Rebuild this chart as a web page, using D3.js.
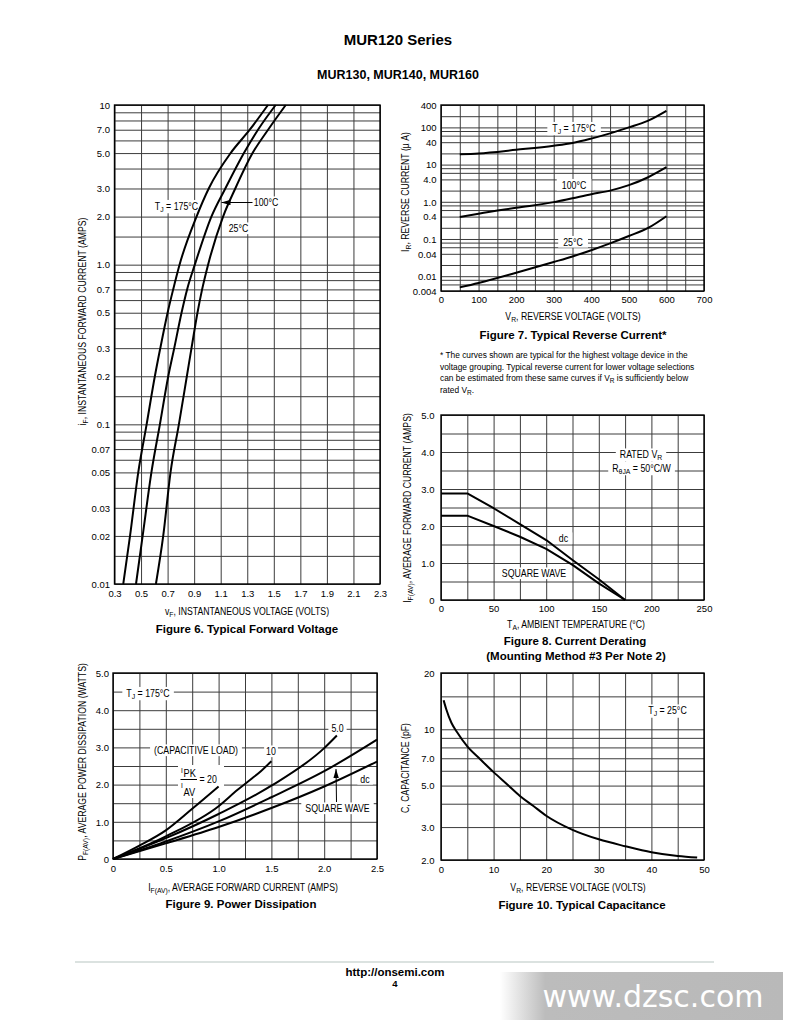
<!DOCTYPE html>
<html>
<head>
<meta charset="utf-8">
<script src="https://cdn.jsdelivr.net/npm/d3@7"></script>
<style>
  body { margin: 0; background: #fff; }
</style>
</head>
<body>
<script>
    //----- DATA ---------------------------------------// 
    // Figure 6: forward current (A) vs forward voltage (V)
    var fig6Current = [0.01, 0.02, 0.05, 0.1, 0.2, 0.3, 0.5, 0.7, 1, 2, 3, 5, 7, 10];
    var fig6V175 = [0.366, 0.417, 0.479, 0.542, 0.604, 0.645, 0.7, 0.742, 0.79, 0.918, 1.01, 1.175, 1.319, 1.456];
    var fig6V100 = [0.462, 0.512, 0.578, 0.642, 0.705, 0.75, 0.805, 0.847, 0.905, 1.03, 1.135, 1.275, 1.381, 1.514];
    var fig6V25  = [0.612, 0.667, 0.722, 0.785, 0.845, 0.88, 0.925, 0.96, 1.005, 1.118, 1.21, 1.34, 1.457, 1.59];
    var fig6XTicks = [0.3, 0.5, 0.7, 0.9, 1.1, 1.3, 1.5, 1.7, 1.9, 2.1, 2.3];
    var fig6XLabels = ['0.3', '0.5', '0.7', '0.9', '1.1', '1.3', '1.5', '1.7', '1.9', '2.1', '2.3'];
    var fig6YTicks = [0.01, 0.02, 0.03, 0.05, 0.07, 0.1, 0.2, 0.3, 0.5, 0.7, 1, 2, 3, 5, 7, 10];
    var fig6YLabels = ['0.01', '0.02', '0.03', '0.05', '0.07', '0.1', '0.2', '0.3', '0.5', '0.7', '1.0', '2.0', '3.0', '5.0', '7.0', '10'];

    // Figure 7: reverse current (uA) vs reverse voltage (V)
    var fig7Voltage = [50, 100, 200, 300, 350, 400, 450, 500, 550, 600];
    var fig7I175 = [19, 20, 25, 32, 38, 50, 69, 100, 150, 280];
    var fig7I100 = [0.39, 0.48, 0.69, 0.98, 1.25, 1.6, 2.0, 2.8, 4.5, 8.5];
    var fig7I25  = [0.005, 0.0066, 0.0124, 0.0241, 0.034, 0.05, 0.076, 0.12, 0.195, 0.41];
    var fig7XTicks = [0, 100, 200, 300, 400, 500, 600, 700];
    var fig7XLabels = ['0', '100', '200', '300', '400', '500', '600', '700'];
    var fig7YTicks = [0.004, 0.01, 0.04, 0.1, 0.4, 1, 4, 10, 40, 100, 400];
    var fig7YLabels = ['0.004', '0.01', '0.04', '0.1', '0.4', '1.0', '4.0', '10', '40', '100', '400'];

    // Figure 8: average forward current (A) vs ambient temperature (C)
    var fig8Temp = [0, 25, 50, 75, 100, 125, 150, 175];
    var fig8Dc = [2.88, 2.88, 2.48, 2.05, 1.62, 1.08, 0.56, 0];
    var fig8Square = [2.28, 2.28, 2.0, 1.71, 1.38, 0.95, 0.45, 0];
    var fig8XTicks = [0, 50, 100, 150, 200, 250];
    var fig8XLabels = ['0', '50', '100', '150', '200', '250'];
    var fig8YTicks = [0, 1, 2, 3, 4, 5];
    var fig8YLabels = ['0', '1.0', '2.0', '3.0', '4.0', '5.0'];

    // Figure 9: power dissipation (W) vs average forward current (A)
    var fig9DcI = [0, 0.5, 1.0, 1.5, 2.0, 2.5];
    var fig9DcP = [0, 0.42, 0.86, 1.37, 1.95, 2.62];
    var fig9SqI = [0, 0.5, 1.0, 1.5, 2.0, 2.5];
    var fig9SqP = [0, 0.47, 1.01, 1.66, 2.36, 3.21];
    var fig9R5I = [0, 0.5, 1.0, 1.5, 2.0, 2.12];
    var fig9R5P = [0, 0.56, 1.21, 1.97, 2.98, 3.32];
    var fig9R10I = [0, 0.5, 1.0, 1.18, 1.3, 1.4, 1.5];
    var fig9R10P = [0, 0.61, 1.42, 1.86, 2.13, 2.36, 2.63];
    var fig9R20I = [0, 0.25, 0.5, 0.75, 1.0];
    var fig9R20P = [0, 0.36, 0.77, 1.35, 1.95];
    var fig9XTicks = [0, 0.5, 1.0, 1.5, 2.0, 2.5];
    var fig9XLabels = ['0', '0.5', '1.0', '1.5', '2.0', '2.5'];

    // Figure 10: capacitance (pF) vs reverse voltage (V)
    var fig10Voltage = [0.5, 1, 2, 3, 5, 7.5, 10, 12.5, 15, 17.5, 20, 25, 30, 35, 40, 45, 48.7];
    var fig10Cap = [14.3, 12.8, 10.8, 9.7, 8.1, 6.9, 5.9, 5.1, 4.4, 3.9, 3.45, 2.9, 2.58, 2.37, 2.2, 2.1, 2.06];
    var fig10XTicks = [0, 10, 20, 30, 40, 50];
    var fig10XLabels = ['0', '10', '20', '30', '40', '50'];
    var fig10YTicks = [2, 3, 5, 7, 10, 20];
    var fig10YLabels = ['2.0', '3.0', '5.0', '7.0', '10', '20'];

    //----- SETTINGS -----------------------------------// 
    var SANS = '"Liberation Sans", Arial, sans-serif',
        GRID = '#3c3c3c',
        CURVE_WIDTH = 2,
        SUB_RATIO = 0.78,
        TITLE_SQUEEZE = 0.87,   // axis titles are set in a condensed face
        NOTE_SQUEEZE = 0.88;

    var svg = d3.select('body').append('svg')
        .attr('width', 792)
        .attr('height', 1024)
        .style('font-family', SANS);

    var defs = svg.append('defs');
    defs.append('marker')
        .attr('id', 'arrow')
        .attr('viewBox', '0 0 10 6')
        .attr('refX', 10).attr('refY', 3)
        .attr('markerUnits', 'userSpaceOnUse')
        .attr('markerWidth', 9).attr('markerHeight', 5.4)
        .attr('orient', 'auto')
        .append('path').attr('d', 'M0,0L10,3L0,6Z').attr('fill', '#000');

    var fade = defs.append('linearGradient').attr('id', 'fade');
    fade.append('stop').attr('offset', '0').attr('stop-color', '#fff');
    fade.append('stop').attr('offset', '0.16').attr('stop-color', '#bcbcbc');
    fade.append('stop').attr('offset', '1').attr('stop-color', '#b9b9b9');

    //----- HELPERS ------------------------------------// 
    function rich(text, parts, size) {
        parts.forEach(function (p) {
            if (typeof p === 'string') {
                text.append('tspan').text(p);
            } else {
                text.append('tspan')
                    .attr('baseline-shift', '-22%')
                    .attr('font-size', size * SUB_RATIO)
                    .text(p.sub);
            }
        });
        return text;
    }

    // Text with optional white knock-out box and horizontal squeeze
    function note(g, x, y, parts, opts) {
        opts = opts || {};
        var size = opts.size || 10;
        var sx = opts.squeeze || 1;
        var holder = g.append('g')
            .attr('transform', 'translate(' + x + ',' + y + ')' + (opts.rotate ? ' rotate(-90)' : '') + ' scale(' + sx + ',1)');
        var t = holder.append('text')
            .attr('text-anchor', opts.anchor || 'middle')
            .attr('font-family', opts.family || SANS)
            .attr('font-size', size)
            .attr('font-weight', opts.bold ? 'bold' : null)
            .attr('fill', opts.fill || '#000');
        rich(t, parts, size);
        if (opts.bg) {
            var b = t.node().getBBox();
            holder.insert('rect', function () { return t.node(); })
                .attr('x', b.x - opts.bg / sx).attr('y', b.y)
                .attr('width', b.width + 2 * opts.bg / sx).attr('height', b.height)
                .attr('fill', '#fff');
        }
        return t;
    }

    function label(g, x, y, parts, bg) {
        return note(g, x, y, parts, { squeeze: NOTE_SQUEEZE, bg: bg });
    }

    function xTitle(g, cx, y, parts) {
        return note(g, cx, y, parts, { squeeze: TITLE_SQUEEZE });
    }

    function yTitle(g, x, cy, parts) {
        return note(g, x, cy, parts, { squeeze: TITLE_SQUEEZE, rotate: true });
    }

    function figTitle(g, cx, y, s) {
        return note(g, cx, y, [s], { size: 11.5, bold: true });
    }

    function logGrid(decades, mults, lo, hi) {
        var out = [];
        decades.forEach(function (d) {
            mults.forEach(function (m) {
                var v = +(d * m).toPrecision(6);
                if (v >= lo && v <= hi) out.push(v);
            });
        });
        return out;
    }

    function steps(lo, hi, step) {
        return d3.range(lo, hi + step / 2, step);
    }

    //----- PANEL --------------------------------------// 
    function panel(c) {
        var x = d3.scaleLinear().domain(c.xDomain).range([c.left, c.right]);
        var y = (c.yLog ? d3.scaleLog() : d3.scaleLinear()).domain(c.yDomain).range([c.bottom, c.top]);
        var w = c.right - c.left, h = c.bottom - c.top;
        var g = svg.append('g');

        // Grid lines drawn with axes
        g.append('g').attr('class', 'grid')
            .attr('transform', 'translate(0,' + c.bottom + ')')
            .call(d3.axisBottom(x).tickValues(c.xGrid).tickSize(-h).tickFormat(''));
        g.append('g').attr('class', 'grid')
            .attr('transform', 'translate(' + c.left + ',0)')
            .call(d3.axisLeft(y).tickValues(c.yGrid).tickSize(-w).tickFormat(''));
        g.selectAll('.grid .domain').remove();
        g.selectAll('.grid text').remove();
        g.selectAll('.grid line').attr('stroke', GRID).attr('stroke-width', 1);

        // Labels sit under the curves, so curves are never hidden by a knock-out box
        var ann = g.append('g');
        var curves = g.append('g');

        // Frame
        g.append('rect')
            .attr('x', c.left).attr('y', c.top)
            .attr('width', w).attr('height', h)
            .attr('fill', 'none').attr('stroke', '#000').attr('stroke-width', 1.4);

        // Tick labels
        var xa = g.append('g')
            .attr('transform', 'translate(0,' + c.bottom + ')')
            .call(d3.axisBottom(x).tickValues(c.xTicks).tickSize(0)
                .tickFormat(function (d, i) { return c.xLabels[i]; }));
        xa.attr('font-family', null).attr('font-size', null);
        xa.select('.domain').remove();
        xa.selectAll('text')
            .attr('y', c.xLabelY - c.bottom).attr('dy', null)
            .attr('font-size', 9.5).attr('fill', '#000');

        var ya = g.append('g')
            .attr('transform', 'translate(' + c.left + ',0)')
            .call(d3.axisLeft(y).tickValues(c.yTicks).tickSize(0)
                .tickFormat(function (d, i) { return c.yLabels[i]; }));
        ya.attr('font-family', null).attr('font-size', null);
        ya.select('.domain').remove();
        ya.selectAll('text')
            .attr('x', c.yLabelX - c.left).attr('dy', '0.34em')
            .attr('font-size', 9.5).attr('fill', '#000');

        return { x: x, y: y, g: g, curves: curves, ann: ann };
    }

    function curve(p, xs, ys, kind) {
        var pts = xs.map(function (v, i) { return [v, ys[i]]; });
        var line = d3.line()
            .x(function (d) { return p.x(d[0]); })
            .y(function (d) { return p.y(d[1]); })
            .curve(kind || d3.curveMonotoneX);
        p.curves.append('path')
            .attr('d', line(pts))
            .attr('fill', 'none')
            .attr('stroke', '#000')
            .attr('stroke-width', CURVE_WIDTH)
            .attr('stroke-linejoin', 'round');
    }

    function arrow(g, x1, y1, x2, y2) {
        g.append('line')
            .attr('x1', x1).attr('y1', y1).attr('x2', x2).attr('y2', y2)
            .attr('stroke', '#000').attr('stroke-width', 1)
            .attr('marker-end', 'url(#arrow)');
    }

    //----- PAGE HEADER --------------------------------// 
    note(svg, 398, 45, ['MUR120 Series'], { size: 15, bold: true });
    note(svg, 398, 79, ['MUR130, MUR140, MUR160'], { size: 12.5, bold: true });

    //----- FIGURE 6 -----------------------------------// 
    var f6 = panel({
        left: 114.5, right: 380, top: 105, bottom: 584,
        xDomain: [0.3, 2.3], yLog: true, yDomain: [0.01, 10],
        xGrid: steps(0.3, 2.3, 0.2),
        yGrid: logGrid([0.01, 0.1, 1, 10], [1, 1.5, 2, 3, 4, 5, 6, 7, 8, 9], 0.01, 10),
        xTicks: fig6XTicks, xLabels: fig6XLabels, xLabelY: 597,
        yTicks: fig6YTicks, yLabels: fig6YLabels, yLabelX: 110
    });
    curve(f6, fig6V175, fig6Current);
    curve(f6, fig6V100, fig6Current);
    curve(f6, fig6V25, fig6Current);
    label(f6.ann, 176.5, 209.5, ['T', { sub: 'J' }, ' = 175°C'], 2);
    label(f6.ann, 266, 206, ['100°C'], 2);
    label(f6.ann, 238.5, 232, ['25°C'], 2);
    arrow(f6.ann, 252.5, 202.5, 221.5, 202.5);
    yTitle(f6.g, 86, 321.5, ['i', { sub: 'F' }, ', INSTANTANEOUS FORWARD CURRENT (AMPS)']);
    xTitle(f6.g, 247, 615, ['v', { sub: 'F' }, ', INSTANTANEOUS VOLTAGE (VOLTS)']);
    figTitle(f6.g, 247, 633, 'Figure 6. Typical Forward Voltage');

    //----- FIGURE 7 -----------------------------------// 
    var f7 = panel({
        left: 441, right: 704, top: 105, bottom: 291,
        xDomain: [0, 700], yLog: true, yDomain: [0.004, 400],
        xGrid: steps(0, 700, 50),
        yGrid: logGrid([0.001, 0.01, 0.1, 1, 10, 100], [1, 2, 4, 6, 8], 0.004, 400),
        xTicks: fig7XTicks, xLabels: fig7XLabels, xLabelY: 302.5,
        yTicks: fig7YTicks, yLabels: fig7YLabels, yLabelX: 436.5
    });
    curve(f7, fig7Voltage, fig7I175);
    curve(f7, fig7Voltage, fig7I100);
    curve(f7, fig7Voltage, fig7I25);
    label(f7.ann, 574, 131.5, ['T', { sub: 'J' }, ' = 175°C'], 5);
    label(f7.ann, 574, 188.5, ['100°C'], 5);
    label(f7.ann, 573, 245.5, ['25°C'], 5);
    yTitle(f7.g, 409, 192, ['I', { sub: 'R' }, ', REVERSE CURRENT (μ A)']);
    xTitle(f7.g, 573, 320, ['V', { sub: 'R' }, ', REVERSE VOLTAGE (VOLTS)']);
    figTitle(f7.g, 573, 338.5, 'Figure 7. Typical Reverse Current*');

    // Footnote
    var FOOT = { anchor: 'start', size: 9, squeeze: 0.93 };
    note(svg, 440, 358, ['* The curves shown are typical for the highest voltage device in the'], FOOT);
    note(svg, 440, 369.5, ['voltage grouping. Typical reverse current for lower voltage selections'], FOOT);
    note(svg, 440, 381, ['can be estimated from these same curves if V', { sub: 'R' }, ' is sufficiently below'], FOOT);
    note(svg, 440, 392.5, ['rated V', { sub: 'R' }, '.'], FOOT);

    //----- FIGURE 8 -----------------------------------// 
    var f8 = panel({
        left: 441, right: 704, top: 415, bottom: 600,
        xDomain: [0, 250], yDomain: [0, 5],
        xGrid: steps(0, 250, 25), yGrid: steps(0, 5, 0.5),
        xTicks: fig8XTicks, xLabels: fig8XLabels, xLabelY: 612,
        yTicks: fig8YTicks, yLabels: fig8YLabels, yLabelX: 434.5
    });
    curve(f8, fig8Temp, fig8Dc, d3.curveLinear);
    curve(f8, fig8Temp, fig8Square, d3.curveLinear);
    label(f8.ann, 641, 458, ['RATED V', { sub: 'R' }], 4);
    label(f8.ann, 641.5, 471.5, ['R', { sub: 'θJA' }, ' = 50°C/W'], 4);
    label(f8.ann, 563.5, 542, ['dc'], 4);
    label(f8.ann, 534, 577, ['SQUARE WAVE'], 4);
    yTitle(f8.g, 411, 508, ['I', { sub: 'F(AV)' }, ', AVERAGE FORWARD CURRENT (AMPS)']);
    xTitle(f8.g, 576, 628, ['T', { sub: 'A' }, ', AMBIENT TEMPERATURE (°C)']);
    figTitle(f8.g, 575, 644.5, 'Figure 8. Current Derating');
    figTitle(f8.g, 576, 659.5, '(Mounting Method #3 Per Note 2)');

    //----- FIGURE 9 -----------------------------------// 
    var f9 = panel({
        left: 113, right: 377, top: 673, bottom: 859,
        xDomain: [0, 2.5], yDomain: [0, 5],
        xGrid: steps(0, 2.5, 0.25), yGrid: steps(0, 5, 0.5),
        xTicks: fig9XTicks, xLabels: fig9XLabels, xLabelY: 872,
        yTicks: fig8YTicks, yLabels: fig8YLabels, yLabelX: 109
    });
    curve(f9, fig9DcI, fig9DcP);
    curve(f9, fig9SqI, fig9SqP);
    curve(f9, fig9R5I, fig9R5P);
    curve(f9, fig9R10I, fig9R10P);
    curve(f9, fig9R20I, fig9R20P);
    label(f9.ann, 148, 696.5, ['T', { sub: 'J' }, ' = 175°C'], 4);
    label(f9.ann, 196, 754, ['(CAPACITIVE LOAD)'], 4);
    label(f9.ann, 271, 755, ['10'], 2);
    label(f9.ann, 337.5, 731.5, ['5.0'], 3);
    label(f9.ann, 365, 782.5, ['dc'], 3);
    label(f9.ann, 337.5, 812, ['SQUARE WAVE'], 4);

    // I_PK / I_AV = 20
    var frac = f9.ann.append('g');
    frac.append('rect').attr('x', 178).attr('y', 765).attr('width', 46).attr('height', 33).attr('fill', '#fff');
    note(frac, 181, 773, ['I'], { anchor: 'start', size: 7.5, squeeze: NOTE_SQUEEZE });
    note(frac, 183.5, 777, ['PK'], { anchor: 'start', size: 10.5, squeeze: NOTE_SQUEEZE });
    frac.append('line')
        .attr('x1', 180.5).attr('x2', 197).attr('y1', 779.5).attr('y2', 779.5)
        .attr('stroke', '#000').attr('stroke-width', 1);
    note(frac, 181, 787.5, ['I'], { anchor: 'start', size: 7.5, squeeze: NOTE_SQUEEZE });
    note(frac, 183.5, 795.5, ['AV'], { anchor: 'start', size: 10.5, squeeze: NOTE_SQUEEZE });
    note(frac, 199.5, 783, ['= 20'], { anchor: 'start', size: 10, squeeze: NOTE_SQUEEZE });

    arrow(f9.ann, 336.5, 802, 336, 769);
    yTitle(f9.g, 86, 762, ['P', { sub: 'F(AV)' }, ', AVERAGE POWER DISSIPATION (WATTS)']);
    xTitle(f9.g, 243, 891, ['I', { sub: 'F(AV)' }, ', AVERAGE FORWARD CURRENT (AMPS)']);
    figTitle(f9.g, 241, 907.5, 'Figure 9. Power Dissipation');

    //----- FIGURE 10 ----------------------------------// 
    var f10 = panel({
        left: 441, right: 704, top: 673, bottom: 860,
        xDomain: [0, 50], yLog: true, yDomain: [2, 20],
        xGrid: steps(0, 50, 5), yGrid: [2, 3, 4, 5, 6, 7, 8, 9, 10, 15, 20],
        xTicks: fig10XTicks, xLabels: fig10XLabels, xLabelY: 872.5,
        yTicks: fig10YTicks, yLabels: fig10YLabels, yLabelX: 434.5
    });
    curve(f10, fig10Voltage, fig10Cap);
    label(f10.ann, 667.5, 714, ['T', { sub: 'J' }, ' = 25°C'], 2);
    yTitle(f10.g, 409, 768, ['C, CAPACITANCE (pF)']);
    xTitle(f10.g, 578, 891, ['V', { sub: 'R' }, ', REVERSE VOLTAGE (VOLTS)']);
    figTitle(f10.g, 582, 908.5, 'Figure 10. Typical Capacitance');

    //----- FOOTER -------------------------------------// 
    svg.append('line')
        .attr('x1', 75).attr('x2', 714).attr('y1', 962).attr('y2', 962)
        .attr('stroke', '#cfd8d6').attr('stroke-width', 1.5);
    svg.append('rect')
        .attr('x', 500).attr('y', 972).attr('width', 283).attr('height', 48)
        .attr('fill', 'url(#fade)');
    note(svg, 653, 1007, ['www.dzsc.com'], { family: '"DejaVu Sans", sans-serif', size: 30, fill: '#fff' });
    note(svg, 395, 976, ['http://onsemi.com'], { size: 11.5, bold: true });
    note(svg, 395, 987, ['4'], { size: 9.5, bold: true });
</script>
</body>
</html>
